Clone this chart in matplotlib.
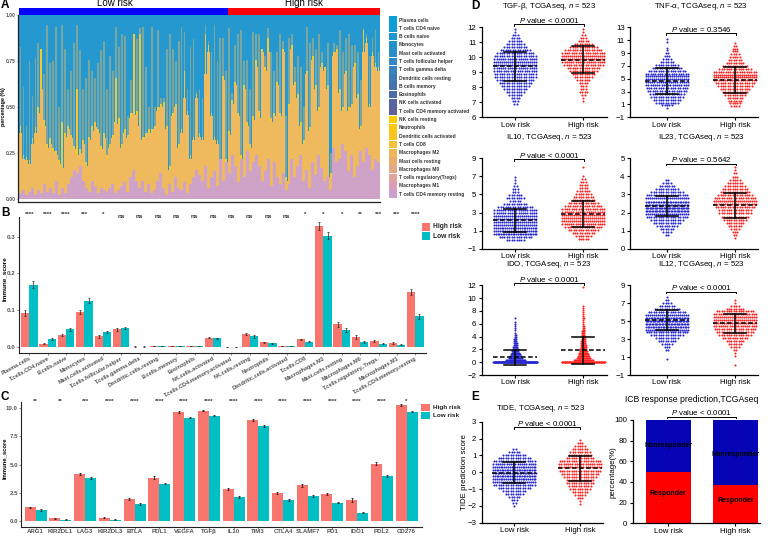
import numpy as np
import matplotlib
matplotlib.use('Agg')
import matplotlib.pyplot as plt
from matplotlib.patches import Rectangle

plt.rcParams['font.family'] = ['Liberation Sans', 'DejaVu Sans']
plt.rcParams['mathtext.fontset'] = 'custom'
plt.rcParams['mathtext.rm'] = 'Liberation Sans'
plt.rcParams['mathtext.it'] = 'Liberation Sans:italic'

W, H = 770, 537

# Panel A: stacked composition, each list holds the top of one band per sample
purple_top = [.03, .05, .02, .04, .06, .02, .05, .03, .08, .04,
              .06, .03, .10, .02, .06, .03, .08, .12, .16, .14,
              .18, .10, .06, .04, .10, .07, .03, .06, .05, .04,
              .06, .08, .03, .05, .07, .09, .04, .12, .16, .10,
              .06, .10, .04, .08, .03, .05, .10, .14, .06, .02,
              .08, .04, .12, .06, .05, .09, .03, .08, .12, .16,
              .13, .10, .18, .06, .12, .15, .07, .22, .10, .20,
              .14, .24, .18, .09, .22, .12, .26, .15, .20, .24,
              .18, .10, .15, .22, .07, .20, .12, .08, .14, .05,
              .08, .22, .12, .18, .24, .10, .16, .06, .20, .13,
              .24, .17, .10, .12, .05, .28, .20, .22, .30, .26,
              .15, .24, .12, .18, .26, .20, .28, .24, .16, .22, .20]
orange_top = [.36, .22, .21, .19, .30, .36, .47, .60, .40, .28,
              .30, .26, .24, .19, .17, .34, .38, .33, .27, .24,
              .25, .30, .18, .32, .37, .39, .36, .27, .33, .22,
              .28, .33, .42, .41, .28, .36, .33, .44, .47, .46,
              .40, .32, .34, .36, .36, .38, .48, .50, .50, .38,
              .16, .45, .50, .28, .36, .55, .46, .22, .32, .55,
              .34, .32, .68, .80, .45, .32, .30, .18, .65, .20,
              .35, .52, .62, .45, .22, .60, .40, .28, .43, .72,
              .44, .80, .70, .80, .42, .45, .62, .45, .80, .10,
              .50, .82, .62, .55, .40, .30, .68, .37, .76, .60,
              .48, .72, .70, .60, .12, .78, .80, .58, .48, .68,
              .48, .50, .72, .55, .38, .80, .85, .50, .78, .72, .70]
yellow_top = [.40, .24, .23, .21, .33, .39, .50, .82, .43, .30,
              .33, .28, .26, .21, .42, .36, .40, .35, .29, .60,
              .27, .32, .20, .34, .40, .42, .38, .29, .36, .24,
              .30, .35, .66, .44, .30, .38, .35, .47, .90, .48,
              .90, .34, .36, .38, .38, .40, .50, .52, .53, .40,
              .18, .47, .52, .30, .38, .70, .48, .24, .34, .57,
              .36, .34, .90, .84, .47, .34, .32, .20, .67, .22,
              .37, .54, .64, .47, .24, .62, .42, .30, .45, .76,
              .48, .82, .72, .88, .44, .47, .64, .47, .82, .12,
              .52, .84, .64, .57, .42, .32, .70, .39, .78, .62,
              .50, .74, .72, .62, .14, .80, .82, .60, .50, .70,
              .50, .52, .74, .57, .40, .92, .88, .52, .80, .74, .72]
spike_top = [.83, .61, .40, .75, .56, .77, .85, .82, .68, .95,
             .74, .75, .94, .50, .95, .82, .60, .70, .85, .95,
             .81, .60, .66, .76, .70, .66, .74, .81, .86, .60,
             .78, .70, .94, .83, .90, .89, .45, .65, .88, .87,
             .93, .94, .72, .50, .94, .50, .92, .55, .55, .82,
             .90, .82, .75, .86, .94, .91, .60, .83, .87, .59,
             .60, .55, .95, .86, .80, .95, .75, .88, .88, .70,
             .93, .58, .84, .90, .92, .75, .76, .60, .91, .90,
             .90, .82, .78, .93, .80, .70, .80, .90, .86, .45,
             .88, .90, .72, .78, .72, .50, .94, .85, .88, .82,
             .90, .80, .72, .85, .25, .85, .84, .92, .80, .88,
             .90, .84, .84, .80, .65, .93, .90, .78, .88, .92, .80]

cell_names = ['Plasma cells', 'T cells CD4 naive', 'B cells naive', 'Monocytes', 'Mast cells activated',
              'T cells follicular helper', 'T cells gamma delta', 'Dendritic cells resting', 'B cells memory',
              'Eosinophils', 'NK cells activated', 'T cells CD4 memory activated', 'NK cells resting', 'Neutrophils',
              'Dendritic cells activated', 'T cells CD8', 'Macrophages M2', 'Mast cells resting', 'Macrophages M0',
              'T cells regulatory(Tregs)', 'Macrophages M1', 'T cells CD4 memory resting']
cell_colors = ['#0b9fd8', '#129bd4', '#1a97d0', '#2192cc', '#2a8ec8', '#3288c4', '#3a82c0', '#4079b8', '#4672b0',
               '#4b6ca8', '#5565a2', '#5f5f9a', '#ffcc00', '#fdc90f', '#f9c422', '#f5c03a', '#efb758', '#e9ae6d',
               '#e3a888', '#dfa3a0', '#d8a0b8', '#cc9fd0']

# Panel B
b_labels = ['Plasma.cells', 'T.cells.CD4.naive', 'B.cells.naive', 'Monocytes', 'Mast.cells.activated',
            'T.cells.follicular.helper', 'T.cells.gamma.delta', 'Dendritic.cells.resting', 'B.cells.memory',
            'Eosinophils', 'NK.cells.activated', 'T.cells.CD4.memory.activated', 'NK.cells.resting', 'Neutrophils',
            'Dendritic.cells.activated', 'T.cells.CD8', 'Macrophages.M2', 'Mast.cells.resting', 'Macrophages.M0',
            'T.cells.regulatory..Tregs.', 'Macrophages.M1', 'T.cells.CD4.memory.resting']
b_high = [.092, .008, .032, .095, .029, .047, .0005, .001, .002, .002, .025, .0003, .034, .012, .002, .020, .330,
          .061, .027, .015, .010, .148]
b_low = [.169, .021, .047, .125, .040, .050, .0005, .001, .002, .002, .023, .0003, .028, .009, .002, .014, .303,
         .046, .012, .008, .005, .083]
b_high_err = [.009, .002, .003, .006, .004, .003, .0003, .0004, .0005, .0005, .002, .0002, .003, .002, .0005, .002,
              .011, .006, .005, .002, .0015, .008]
b_low_err = [.009, .002, .003, .007, .004, .003, .0003, .0004, .0005, .0005, .002, .0002, .003, .002, .0005, .002,
             .010, .005, .003, .0015, .0015, .007]
b_sig = ['****', '****', '****', '***', '*', 'ns', 'ns', 'ns', 'ns', 'ns', 'ns', 'ns', 'ns', 'ns', 'ns', '*', '*',
         '*', '**', '***', '***', '****']

# Panel C
c_labels = ['ARG1', 'KIR2DL1', 'LAG3', 'KIR2DL3', 'BTLA', 'PDL1', 'VEGFA', 'TGFβ', 'IL10', 'TIM3', 'CTLA4', 'SLAMF7',
            'PD1', 'IDO1', 'PDL2', 'CD276']
c_high = [1.2, .25, 4.2, .3, 1.93, 3.85, 9.65, 9.8, 2.83, 9.0, 2.47, 3.17, 2.4, 1.83, 5.07, 10.3]
c_low = [1.0, .12, 3.82, .12, 1.52, 3.3, 9.18, 9.35, 2.13, 8.4, 1.83, 2.25, 1.63, .75, 4.0, 9.7]
c_high_err = [.07, .04, .1, .05, .08, .12, .1, .07, .1, .09, .1, .14, .12, .17, .14, .07]
c_low_err = [.07, .03, .06, .04, .06, .06, .06, .06, .08, .08, .08, .1, .07, .07, .09, .05]
c_sig = ['**', '**', '***', '****', '****', '****', '****', '****', '****', '****', '****', '****', '****', '****',
         '****', '*']

# Panel D/E swarms: dots per row, rows going down from a top value
tgfb_low = [1, 1, 3, 4, 6, 8, 10, 13, 16, 18, 20, 22, 22, 20, 19, 18, 18, 16, 14, 12, 10, 8, 6, 4, 3, 2]
tgfb_high = [1, 1, 2, 3, 5, 8, 12, 16, 19, 22, 22, 20, 17, 14, 12, 10, 8, 6, 4, 3, 3, 4, 2, 1, 1]
tnf_low = [1, 1, 0, 1, 1, 2, 3, 4, 6, 10, 13, 16, 19, 22, 22, 21, 20, 18, 17, 15, 14, 12, 10, 5, 1]
tnf_high = [1, 2, 3, 3, 4, 5, 6, 8, 11, 14, 19, 22, 22, 20, 17, 15, 13, 11, 9, 7, 6, 5, 4]
il10_low = [1, 1, 1, 2, 3, 3, 6, 8, 5, 10, 15, 20, 20, 22, 22, 22, 22, 24, 24, 26, 14, 8]
il10_high = [1, 0, 0, 1, 2, 3, 4, 4, 6, 7, 9, 10, 13, 16, 19, 20, 22, 22, 22, 20, 16, 13, 10, 7, 5]
il23_low = [2, 4, 7, 10, 14, 18, 22, 26, 30, 34, 30, 22, 18, 14, 12, 9, 6, 4, 2]
il23_high = [1, 1, 2, 3, 5, 7, 9, 11, 13, 15, 18, 22, 20, 17, 14, 14, 12, 10, 8, 6, 4, 3, 2, 1]
ido_low = [1, 0, 1, 1, 1, 1, 1, 0, 1, 2, 2, 3, 3, 4, 4, 5, 6, 7, 8, 10, 12, 14, 20, 120]
ido_high = [1, 0, 0, 0, 0, 0, 0, 0, 0, 0, 1, 1, 1, 1, 1, 1, 2, 1, 1, 1, 2, 2, 2, 3, 3, 3, 4, 4, 5, 5, 6, 6, 7, 8, 9,
            10, 12, 14, 20, 70]
il12_low = [1, 2, 4, 7, 11, 16, 22, 28, 32, 30, 26, 22, 18, 14, 10, 8, 5, 3, 2, 0, 0, 1]
il12_high = [1, 1, 4, 8, 16, 20, 22, 22, 22, 20, 18, 16, 14, 11, 8, 6, 4, 2, 1, 1, 0, 0, 1]
tide_low = [2, 5, 10, 14, 18, 20, 24, 26, 28, 26, 24, 22, 18, 14, 10, 8, 5, 3, 2, 1]
tide_high = [1, 3, 5, 7, 9, 10, 12, 18, 20, 20, 18, 16, 14, 12, 12, 10, 9, 7, 5, 3, 1, 1]

# mean, upper and lower SD line for [low, high]
tgfb_stats = [[9.4, 10.35, 8.45], [9.85, 10.72, 8.97]]
tnf_stats = [[4.65, 6.7, 2.65], [4.85, 6.9, 2.8]]
il10_stats = [[2.15, 3.4, .9], [2.85, 4.3, 1.4]]
il23_stats = [[2.35, 2.9, 1.8], [2.4, 3.1, 1.7]]
ido_stats = [[.75, 1.95, -.4], [1.85, 4.0, -.3]]
il12_stats = [[5.15, 6.25, 4.05], [4.75, 5.85, 3.65]]
tide_stats = [[-.03, .6, -.65], [.25, .97, -.5]]

risk_groups = ['Low risk', 'High risk']
icb_responder = [50, 37]
icb_nonresponder = [50, 63]

HIGH_COLOR, LOW_COLOR = '#F8766D', '#00BFC4'
BLUE, RED = '#2626d0', '#ff2020'
TXT = 5.7


def px_axes(left, top, right, bottom):
    return fig.add_axes([left / W, 1 - bottom / H, (right - left) / W, (bottom - top) / H])


fig = plt.figure(figsize=(W / 100, H / 100), dpi=100)
over = fig.add_axes([0, 0, 1, 1], zorder=10)
over.set_xlim(0, W)
over.set_ylim(H, 0)
over.axis('off')


def put(x, y, s, **kw):
    kw.setdefault('ha', 'center')
    kw.setdefault('va', 'center')
    over.text(x, y, s, **kw)


for letter, x, y in [('A', 5, 5), ('B', 5, 213), ('C', 5, 397), ('D', 475, 6), ('E', 475, 397)]:
    put(x, y, letter, fontsize=8.5, fontweight='bold')

# ---- Panel A
ax = px_axes(17.5, 15.5, 380, 202)
ax.set_xlim(-0.5, len(spike_top))
ax.set_ylim(-3 / 183.5, 1)
xs = np.arange(len(spike_top))
# painted back to front, every band starts at zero
ax.bar(xs, np.ones(len(xs)), width=1, align='edge', color='#2598d0', linewidth=0)
ax.bar(xs + 0.5, spike_top, width=0.6, color='#7aa6a0', linewidth=0)
ax.bar(xs + 0.5, yellow_top, width=0.6, color='#f3c737', linewidth=0)
ax.bar(xs, orange_top, width=1, align='edge', color='#efb95e', linewidth=0)
ax.bar(xs, purple_top, width=1, align='edge', color='#cfa2c8', linewidth=0)
for side in ['top', 'right']:
    ax.spines[side].set_visible(False)
for side in ['left', 'bottom']:
    ax.spines[side].set_linewidth(0.9)
    ax.spines[side].set_color('#222222')
ax.set_xticks([])
ax.set_yticks([0, .25, .5, .75, 1])
ax.set_yticklabels(['0.00', '0.25', '0.50', '0.75', '1.00'], fontsize=3.6, fontweight='bold', color='#555555')
ax.tick_params(axis='y', length=1, width=0.5, pad=0.5, color='#555555')
put(3.3, 107, 'percentage (%)', fontsize=3.9, fontweight='bold', rotation=90)

over.add_patch(Rectangle((19, 8), 209, 7, color='#0000ff', lw=0))
over.add_patch(Rectangle((228, 8), 152, 7, color='#ff0000', lw=0))
put(115, 3.5, 'Low risk', fontsize=7)
put(304, 3.5, 'High risk', fontsize=7)
for i, (name, col) in enumerate(zip(cell_names, cell_colors)):
    y = 16 + i * 8.3
    over.add_patch(Rectangle((388.5, y), 8, 7.8, color=col, lw=0))
    put(399, y + 4, name, ha='left', fontsize=3.5, fontweight='bold', color='#333333')


def bar_panel(ax, labels, high, low, high_err, low_err, bar_w, capsize, elw):
    x = np.arange(len(labels))
    ax.bar(x - bar_w / 2, high, bar_w, color=HIGH_COLOR, linewidth=0)
    ax.bar(x + bar_w / 2, low, bar_w, color=LOW_COLOR, linewidth=0)
    ax.errorbar(x - bar_w / 2, high, yerr=high_err, fmt='none', ecolor='#222222', elinewidth=elw, capsize=capsize,
                capthick=elw)
    ax.errorbar(x + bar_w / 2, low, yerr=low_err, fmt='none', ecolor='#222222', elinewidth=elw, capsize=capsize,
                capthick=elw)
    for side in ['top', 'right']:
        ax.spines[side].set_visible(False)
    for side in ['left', 'bottom']:
        ax.spines[side].set_linewidth(0.8)
        ax.spines[side].set_color('#222222')
    ax.set_xticks(x)


# ---- Panel B
ax = px_axes(18.5, 217, 426, 353)
ax.set_xlim((18.5 - 29.3) / 18.38, (426 - 29.3) / 18.38)
ax.set_ylim(-6.3 / 366.7, 129.7 / 366.7)
bar_panel(ax, b_labels, b_high, b_low, b_high_err, b_low_err, 0.45, 0.6, 0.5)
ax.set_xticklabels(b_labels, rotation=29, ha='right', rotation_mode='anchor', fontsize=4, fontweight='bold',
                   color='#555555')
ax.set_yticks([0, .1, .2, .3])
ax.set_yticklabels(['0.0', '0.1', '0.2', '0.3'], fontsize=4.5, fontweight='bold', color='#555555')
ax.tick_params(axis='both', length=1.2, width=0.5, pad=0.8, color='#555555')
put(4.5, 279, 'Immune_score', fontsize=4.6, fontweight='bold', rotation=90)
for i, s in enumerate(b_sig):
    px = 29.3 + i * 18.38
    if s == 'ns':
        put(px, 216, s, fontsize=4.6, fontweight='bold', color='#333333')
    else:
        put(px, 214.5, s, fontsize=4.4, fontweight='bold', color='#333333')
for y, col, name in [(222.5, HIGH_COLOR, 'High risk'), (232, LOW_COLOR, 'Low risk')]:
    over.add_patch(Rectangle((421.7, y), 8.3, 8.3, color=col, lw=0))
    put(433, y + 4.2, name, ha='left', fontsize=4.8, fontweight='bold', color='#222222')

# ---- Panel C
ax = px_axes(20.7, 402, 421.7, 526.7)
ax.set_xlim((20.7 - 35.7) / 24.73, (421.7 - 35.7) / 24.73)
ax.set_ylim(-5.7 / 11.27, 119 / 11.27)
bar_panel(ax, c_labels, c_high, c_low, c_high_err, c_low_err, 0.445, 0.7, 0.6)
ax.set_xticklabels(c_labels, fontsize=4.4, fontweight='bold', color='#555555')
ax.set_yticks([0, 2.5, 5, 7.5, 10])
ax.set_yticklabels(['0.0', '2.5', '5.0', '7.5', '10.0'], fontsize=4.4, fontweight='bold', color='#555555')
ax.tick_params(axis='both', length=1.2, width=0.5, pad=0.8, color='#555555')
put(4.5, 458, 'Immune_score', fontsize=4.2, fontweight='bold', rotation=90)
for i, s in enumerate(c_sig):
    put(35.7 + i * 24.73, 401, s, fontsize=4.4, fontweight='bold', color='#333333')
for y, col, name in [(404, HIGH_COLOR, 'High risk'), (411.5, LOW_COLOR, 'Low risk')]:
    over.add_patch(Rectangle((421, y), 8.5, 7.2, color=col, lw=0))
    put(433, y + 3.6, name, ha='left', fontsize=4.6, fontweight='bold', color='#222222')


def draw_swarm(ax, cat, top, step, counts, color, unit, max_spacing):
    for i, n in enumerate(counts):
        if n == 0:
            continue
        spacing = min(max_spacing, 44 / n)
        offs = (np.arange(n) - (n - 1) / 2) * spacing / unit
        ax.scatter(cat + offs, np.full(n, top - i * step), s=2.2, color=color, linewidths=0, clip_on=False, zorder=2)


def draw_stats(ax, cat, stats, unit):
    mean, upper, lower = stats
    ax.plot([cat - 22 / unit, cat + 22 / unit], [mean, mean], color='black', lw=1.1, ls=(0, (3, 1.6)), zorder=3,
            clip_on=False)
    ax.plot([cat, cat], [lower, upper], color='black', lw=1.1, zorder=3, clip_on=False)
    for v in (lower, upper):
        ax.plot([cat - 11 / unit, cat + 11 / unit], [v, v], color='black', lw=1.1, zorder=3, clip_on=False)


def style_d(ax, ymin, ymax, ticks):
    ax.set_ylim(ymin, ymax)
    ax.set_yticks(ticks)
    ax.set_xticks([0, 1])
    ax.set_xticklabels(risk_groups)
    for side in ['top', 'right']:
        ax.spines[side].set_visible(False)
    for side in ['left', 'bottom']:
        ax.spines[side].set_linewidth(0.9)
    ax.tick_params(axis='both', length=2.4, width=0.8, pad=1.4, labelsize=TXT)
    ax.tick_params(axis='x', pad=0.8)


def swarm_panel(left, top, right, bottom, c0, c1, ymin, ymax, ticks, low, high, stats, rows, max_spacing=2.4):
    ax = px_axes(left, top, right, bottom)
    unit = c1 - c0
    ax.set_xlim((left - c0) / unit, (right - c0) / unit)
    draw_swarm(ax, 0, rows[0], rows[2], low, BLUE, unit, max_spacing)
    draw_swarm(ax, 1, rows[1], rows[2], high, RED, unit, max_spacing)
    draw_stats(ax, 0, stats[0], unit)
    draw_stats(ax, 1, stats[1], unit)
    style_d(ax, ymin, ymax, ticks)
    return ax


def bracket(x0, x1, y, text, tx=None, ty=None):
    over.plot([x0, x0, x1, x1], [y + 1.5, y, y, y + 1.5], color='black', lw=0.7, clip_on=False)
    put((x0 + x1) / 2 if tx is None else tx, y - 3.6 if ty is None else ty, text, fontsize=TXT)


P_LT = r'$\it{P}$ value < 0.0001'
L1, R1 = 481.7, 606.7
L2, R2 = 630, 758
CL1, CH1 = 515.3, 583.3
CL2, CH2 = 667, 735

# ---- Panel D
swarm_panel(L1, 27.3, R1, 117.3, CL1, CH1, 6, 12, range(6, 13), tgfb_low, tgfb_high, tgfb_stats, (11.9, 11.9, .2))
put(549, 6.7, r'TGF-β, TCGAseq, $\it{n}$ = 523', fontsize=TXT)
bracket(CL1 - 1, CH1 + 1, 24, P_LT)

swarm_panel(L2, 27.3, R2, 117.3, CL2, CH2, -1, 13, range(-1, 14, 2), tnf_low, tnf_high, tnf_stats, (11.2, 10.6, .45))
put(701, 6.7, r'TNF-α, TCGAseq, $\it{n}$ = 523', fontsize=TXT)
bracket(CL2 - 1, CH2 + 1, 33, r'$\it{P}$ value = 0.3546')

swarm_panel(L1, 158.3, R1, 248.7, CL1, CH1, -1, 9, range(-1, 10, 2), il10_low, il10_high, il10_stats, (6.9, 8.0, .33))
put(549, 137.7, r'IL10, TCGAseq, $\it{n}$ = 523', fontsize=TXT)
bracket(CL1 - 1, CH1 + 1, 159, P_LT)

swarm_panel(L2, 158.3, R2, 248.7, CL2, CH2, 0, 5, range(0, 6), il23_low, il23_high, il23_stats, (3.8, 4.5, .17))
put(701, 137.7, r'IL23, TCGAseq, $\it{n}$ = 523', fontsize=TXT)
bracket(CL2 - 1, CH2 + 1, 163.5, r'$\it{P}$ value = 0.5642')

swarm_panel(L1, 285.3, R1, 375, CL1, CH1, -2, 12, range(-2, 13, 2), ido_low, ido_high, ido_stats, (6.9, 11.7, .3),
            max_spacing=1.0)
put(549, 264.5, r'IDO, TCGAseq, $\it{n}$ = 523', fontsize=TXT)
bracket(CL1 - 1, CH1 + 1, 283, P_LT)

swarm_panel(L2, 285.3, R2, 375, CL2, CH2, -1, 9, range(-1, 10, 2), il12_low, il12_high, il12_stats, (7.7, 7.4, .33))
put(701, 264.5, r'IL12, TCGAseq, $\it{n}$ = 523', fontsize=TXT)
bracket(CL2 - 1, CH2 + 1, 291.5, P_LT)

# ---- Panel E
ax = swarm_panel(L1, 421.7, 603, 522.7, 514.3, 580, -3, 3, range(-3, 4), tide_low, tide_high, tide_stats,
                 (1.4, 1.9, .18))
put(464.5, 472, 'TIDE prediction score', fontsize=TXT, rotation=90)
put(541, 408, r'TIDE, TCGAseq, $\it{n}$ = 523', fontsize=TXT)
bracket(514.3, 580, 427, P_LT)

ax = px_axes(632.7, 420, 760, 523.3)
unit = 67.2
ax.set_xlim((632.7 - 668.2) / unit, (760 - 668.2) / unit)
ax.bar([0, 1], icb_responder, 0.67, color='#ff0000', linewidth=0)
ax.bar([0, 1], icb_nonresponder, 0.67, bottom=icb_responder, color='#0505b5', linewidth=0)
for i, (y_r, y_n) in enumerate([(29, 75), (22, 67)]):
    ax.text(i, y_r, 'Responder', ha='center', va='center', fontsize=5.0, fontweight='bold')
    ax.text(i, y_n, 'Nonresponder', ha='center', va='center', fontsize=5.0, fontweight='bold')
style_d(ax, 0, 100, range(0, 101, 20))
put(613, 472, 'percentage(%)', fontsize=TXT, rotation=90)
put(692, 400, 'ICB response prediction,TCGAseq', fontsize=6.2)
bracket(667, 736, 416.7, P_LT, tx=701.7, ty=412.7)

fig.savefig('out.png', dpi=100)
